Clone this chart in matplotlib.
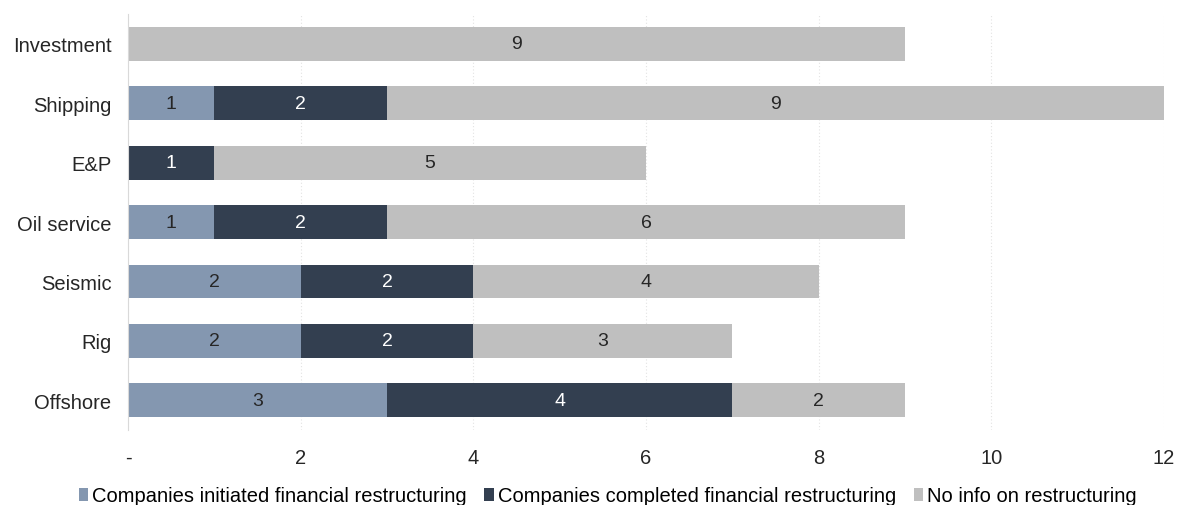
import numpy as np
import matplotlib
matplotlib.use('Agg')
import matplotlib.pyplot as plt

plt.rcParams['font.family'] = ['Liberation Sans', 'DejaVu Sans']

# Data (top to bottom)
categories = ['Investment', 'Shipping', 'E&P', 'Oil service', 'Seismic', 'Rig', 'Offshore']
initiated = [0, 1, 0, 1, 2, 2, 3]
completed = [0, 2, 1, 2, 2, 2, 4]
no_info = [9, 9, 5, 6, 4, 3, 2]
series_names = ['Companies initiated financial restructuring',
                'Companies completed financial restructuring',
                'No info on restructuring']
colors = ['#8497B0', '#333F50', '#BFBFBF']
text_colors = ['#262626', 'white', '#262626']

fig = plt.figure(figsize=(11.84, 5.06), dpi=100)
ax = fig.add_axes([0.1081, 0.148, 0.875, 0.822])

y = np.arange(len(categories))
left = np.zeros(len(categories))
for vals, name, col, tcol in zip([initiated, completed, no_info], series_names, colors, text_colors):
    vals = np.array(vals, dtype=float)
    bars = ax.barh(y, vals, left=left, height=0.57, color=col, label=name, zorder=2)
    for b, v in zip(bars, vals):
        if v > 0:
            ax.text(b.get_x() + b.get_width() / 2, b.get_y() + b.get_height() / 2,
                    '%d' % v, ha='center', va='center', color=tcol, fontsize=14, zorder=3)
    left += vals

ax.set_ylim(len(categories) - 0.5, -0.5)
ax.set_xlim(0, 12)
ax.set_yticks(y)
ax.set_yticklabels(categories, fontsize=14.5)
ax.set_xticks(np.arange(0, 13, 2))
ax.set_xticklabels(['-'] + [str(v) for v in range(2, 13, 2)], fontsize=14.5)
ax.tick_params(length=0, colors='#262626')
ax.tick_params(axis='x', pad=13)
ax.tick_params(axis='y', pad=12)
ax.xaxis.grid(True, linestyle=(0, (1, 2)), color='#E3E3E3', linewidth=0.8, zorder=0)
for s in ['top', 'right', 'bottom']:
    ax.spines[s].set_visible(False)
ax.spines['left'].set_color('#D9D9D9')

ax.legend(loc='center', bbox_to_anchor=(0.463, -0.158), ncol=3, frameon=False,
          fontsize=14.5, handlelength=0.45, handleheight=0.6, handletextpad=0.2,
          columnspacing=0.9, borderpad=0)

plt.savefig('out.png', dpi=100)
